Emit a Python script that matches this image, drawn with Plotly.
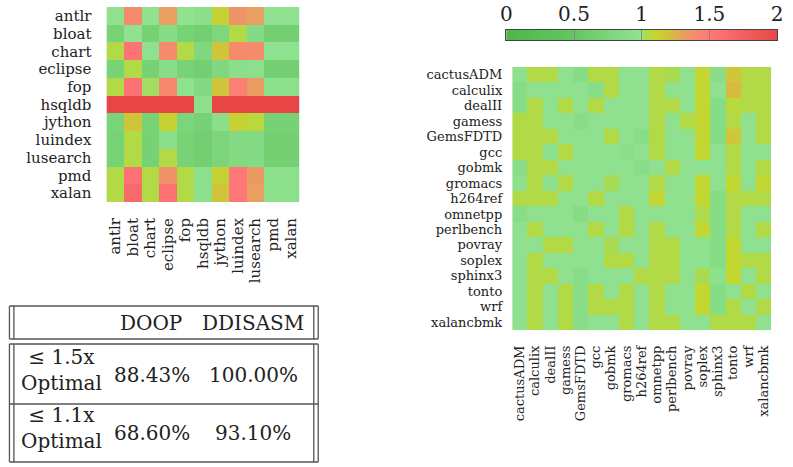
import numpy as np
import plotly.graph_objects as go

W, H = 793, 467

# ---------------- data ----------------
java_benchmarks = ["antlr", "bloat", "chart", "eclipse", "fop", "hsqldb",
                   "jython", "luindex", "lusearch", "pmd", "xalan"]
java_ratios = [
    [0.98, 1.40, 0.98, 1.30, 0.98, 0.92, 1.12, 1.36, 1.30, 0.98, 0.98],
    [0.72, 0.98, 0.70, 0.88, 0.72, 0.66, 0.78, 1.05, 0.86, 0.66, 0.66],
    [1.05, 1.55, 0.96, 1.40, 1.05, 0.80, 1.18, 1.40, 1.40, 0.96, 0.96],
    [0.72, 1.05, 0.70, 0.90, 0.72, 0.66, 0.80, 0.92, 0.94, 0.66, 0.66],
    [1.05, 1.55, 1.015, 1.42, 0.96, 0.82, 1.18, 1.46, 1.32, 0.94, 0.94],
    [2.00, 2.00, 2.00, 2.00, 2.00, 0.95, 2.00, 2.00, 2.00, 2.00, 2.00],
    [0.74, 1.18, 0.72, 1.12, 0.76, 0.70, 0.92, 1.12, 1.07, 0.70, 0.70],
    [0.72, 1.05, 0.70, 0.92, 0.72, 0.66, 0.76, 0.86, 0.84, 0.68, 0.68],
    [0.72, 1.05, 0.70, 1.05, 0.72, 0.66, 0.76, 0.84, 0.86, 0.68, 0.68],
    [1.05, 1.55, 1.05, 1.36, 1.05, 0.94, 1.12, 1.50, 1.33, 0.94, 0.94],
    [1.05, 1.65, 1.05, 1.55, 1.05, 0.94, 1.18, 1.52, 1.30, 0.94, 0.94],
]

spec_benchmarks = ["cactusADM", "calculix", "dealII", "gamess", "GemsFDTD", "gcc",
                   "gobmk", "gromacs", "h264ref", "omnetpp", "perlbench", "povray",
                   "soplex", "sphinx3", "tonto", "wrf", "xalancbmk"]
spec_ratios = [
    [.97, 1.05, 1.05, .97, .88, 1.05, 1.05, .97, .97, 1.05, 1.02, .97, 1.10, .90, 1.17, 1.05, 1.05],
    [.88, .97, .97, .97, .97, .90, 1.05, .97, .97, 1.05, .97, .97, 1.10, .97, 1.22, 1.05, 1.05],
    [.88, 1.05, .97, 1.05, .97, 1.05, .97, .97, .97, 1.05, 1.05, .97, 1.10, .88, 1.07, 1.05, 1.05],
    [1.05, 1.05, .97, .97, .90, .97, .97, .97, .97, 1.05, .97, 1.05, 1.10, .88, 1.05, .97, 1.05],
    [1.05, 1.05, 1.05, .97, .97, .97, 1.05, .97, .90, 1.05, .97, .97, 1.10, .88, 1.17, .97, 1.05],
    [1.05, 1.05, .95, 1.05, .97, .97, .97, .92, .97, 1.05, .97, .97, 1.10, .97, 1.05, .97, .97],
    [.90, 1.05, 1.05, .97, .97, .97, .97, .97, .90, .97, 1.05, .97, .97, .97, 1.05, .97, 1.05],
    [.95, 1.05, .95, 1.05, .97, .97, 1.02, .97, .97, 1.05, .97, .97, 1.10, .97, 1.10, .97, 1.10],
    [1.05, 1.05, 1.05, .97, .97, 1.05, .97, .97, .97, 1.10, .97, .97, 1.10, .88, 1.05, 1.05, 1.05],
    [.90, .97, .97, .97, .88, .97, .97, 1.05, .97, .97, .97, .97, 1.03, .88, 1.05, .97, .97],
    [.97, 1.05, .97, .97, .97, 1.05, .97, 1.05, .97, 1.05, .97, .97, 1.10, .88, 1.05, .97, 1.05],
    [.97, .97, 1.05, 1.05, .97, .97, 1.02, .97, .97, 1.05, 1.05, .97, .97, .88, 1.10, .97, .97],
    [.97, 1.05, .97, .97, .97, .97, 1.05, 1.05, .97, 1.05, 1.05, .97, .97, .88, 1.10, 1.05, 1.05],
    [.97, 1.05, 1.05, .97, .90, .97, .97, .97, 1.05, 1.05, 1.05, .97, 1.02, .95, 1.10, .97, 1.05],
    [.97, 1.05, .97, 1.05, .90, 1.05, .97, 1.05, .97, 1.05, .97, .97, 1.10, .88, .97, 1.05, .97],
    [.97, 1.05, .97, 1.05, .90, 1.05, 1.05, 1.05, .97, 1.05, .97, .97, 1.10, .88, 1.05, .97, 1.05],
    [.97, 1.05, .97, 1.05, .90, .97, .97, 1.05, .97, 1.05, 1.05, .97, .97, 1.05, 1.05, 1.05, .97],
]

colorbar_ticks = [0, 0.5, 1, 1.5, 2]
colorbar_ticktext = ["0", "0.5", "1", "1.5", "2"]

table_columns = ["DOOP", "DDISASM"]
table_row_labels = ["≤ 1.5x<br>Optimal", "≤ 1.1x<br>Optimal"]
doop_share = ["88.43%", "68.60%"]
ddisasm_share = ["100.00%", "93.10%"]

# ---------------- styling ----------------
ZMIN, ZMAX = 0, 2
cscale = [
    [0.00, "#4cb848"],
    [0.25, "#64c662"],
    [0.50, "#92e392"],
    [0.51, "#a9db52"],
    [0.55, "#c2d731"],
    [0.60, "#d4c03c"],
    [0.65, "#e8a060"],
    [0.75, "#ff7878"],
    [1.00, "#e84646"],
]
SERIF = "DejaVu Serif"
TXT = "#222222"


def px(x):
    return x / W


def py(y):
    return 1 - y / H


fig = go.Figure()

fig.add_trace(go.Heatmap(
    z=java_ratios, x=java_benchmarks, y=java_benchmarks,
    colorscale=cscale, zmin=ZMIN, zmax=ZMAX, showscale=False,
    xaxis="x", yaxis="y",
))
fig.add_trace(go.Heatmap(
    z=spec_ratios, x=spec_benchmarks, y=spec_benchmarks,
    colorscale=cscale, zmin=ZMIN, zmax=ZMAX, showscale=False,
    xaxis="x2", yaxis="y2",
))
# colour bar drawn as its own strip on the shared scale
bar_x = np.linspace(ZMIN, ZMAX, 401)
fig.add_trace(go.Heatmap(
    z=[bar_x], x=bar_x, y=[0],
    colorscale=cscale, zmin=ZMIN, zmax=ZMAX, showscale=False,
    xaxis="x3", yaxis="y3", hoverinfo="skip",
))

lab_font_l = dict(family=SERIF, size=15, color=TXT)
lab_font_r = dict(family=SERIF, size=13, color=TXT)
common = dict(ticks="", showgrid=False, zeroline=False, tickmode="array")

fig.update_layout(
    width=W, height=H,
    margin=dict(l=0, r=0, t=0, b=0),
    paper_bgcolor="white", plot_bgcolor="white",
    showlegend=False,
    xaxis=dict(domain=[px(102), px(298)], anchor="y", tickangle=-90,
               tickvals=java_benchmarks, tickfont=lab_font_l,
               ticklabelstandoff=12, **common),
    yaxis=dict(domain=[py(202), py(7)], anchor="x", autorange="reversed",
               tickvals=java_benchmarks, tickfont=lab_font_l,
               ticklabelstandoff=14, **common),
    xaxis2=dict(domain=[px(514), px(777)], anchor="y2", tickangle=-90,
                tickvals=spec_benchmarks, tickfont=lab_font_r,
                ticklabelstandoff=12, **common),
    yaxis2=dict(domain=[py(330), py(67)], anchor="x2", autorange="reversed",
                tickvals=spec_benchmarks, tickfont=lab_font_r,
                ticklabelstandoff=9, **common),
    xaxis3=dict(domain=[px(508), px(783)], anchor="y3", range=[ZMIN, ZMAX],
                side="top", tickmode="array", tickvals=colorbar_ticks,
                ticktext=colorbar_ticktext,
                tickfont=dict(family=SERIF, size=20, color=TXT),
                ticks="inside", ticklen=10, tickcolor="#888888", tickwidth=1,
                showline=True, mirror=True, linecolor="#444444", linewidth=1,
                showgrid=False, zeroline=False, layer="above traces"),
    yaxis3=dict(domain=[py(40), py(30)], anchor="x3", range=[-0.5, 0.5],
                showticklabels=False, ticks="", showline=True, mirror=True,
                linecolor="#444444", linewidth=1, showgrid=False, zeroline=False),
)

# ---------------- table ----------------
LINE = dict(color="#555555", width=1.3)
xl_out, xl_in, xr_in, xr_out = 3.5, 8, 312.5, 317
boxes = [(306, 339), (344, 462)]
shapes = []
for (y0, y1) in boxes:
    for xv in (xl_out, xl_in, xr_in, xr_out):
        shapes.append(dict(type="line", xref="paper", yref="paper",
                           x0=px(xv), x1=px(xv), y0=py(y0), y1=py(y1), line=LINE))
for yv in (306, 339, 344, 404, 462):
    shapes.append(dict(type="line", xref="paper", yref="paper",
                       x0=px(xl_out), x1=px(xr_out), y0=py(yv), y1=py(yv), line=LINE))
fig.update_layout(shapes=shapes)

TF = dict(family=SERIF, size=20, color=TXT)
ann = []


def txt(s, x, y):
    ann.append(dict(text=s, x=px(x), y=py(y), xref="paper", yref="paper",
                    showarrow=False, font=TF, xanchor="center", yanchor="middle"))


txt(table_columns[0], 147, 323)
txt(table_columns[1], 251, 323)
row_y = [(370, 375), (428, 433)]
for i, (ylab, yv) in enumerate(row_y):
    txt(table_row_labels[i], 56, ylab)
    txt(doop_share[i], 148, yv)
    txt(ddisasm_share[i], 251, yv)
fig.update_layout(annotations=ann)

fig.write_html("out.html", config={"displayModeBar": False},
               post_script="document.body.style.margin='0';")
